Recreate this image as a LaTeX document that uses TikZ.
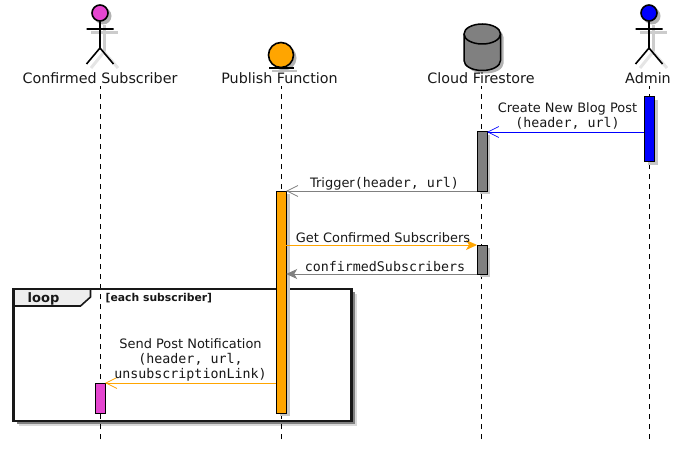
\documentclass[tikz,border=0pt]{standalone}
\usepackage{fontspec}
\setmainfont{DejaVu Sans}
\setmonofont[Scale=1.027]{DejaVu Sans Mono}
\usetikzlibrary{positioning, arrows.meta, calc}
\definecolor{pinkc}{RGB}{229,70,208}
\definecolor{orangec}{RGB}{255,165,0}
\definecolor{grayc}{RGB}{128,128,128}
\definecolor{tabc}{RGB}{238,238,238}
\definecolor{inkc}{RGB}{24,24,24}

\tikzset{
  lifeline/.style={dash pattern=on 5pt off 5pt, line width=0.9pt, black},
  bar/.style={draw=black, line width=1pt, minimum width=10pt, inner sep=0pt, outer sep=0pt, anchor=north},
  barshade/.style={fill=black!22, inner sep=0pt, outer sep=0pt, minimum width=10pt, anchor=north},
  who/.style={font=\fontsize{14.3}{16}\selectfont, text=inkc, inner sep=0pt},
  msg/.style={font=\fontsize{12.95}{15}\selectfont, text=inkc, inner sep=0pt, align=center},
  open head/.style={-{Straight Barb[length=11pt, width=11pt, line width=0.7pt]}, line width=0.9pt},
  full head/.style={-{Stealth[length=11pt, width=10pt, inset=3pt]}, line width=0.9pt},
  stickman/.pic={
    \draw[black!20, line width=3pt] (-9,33) -- (18,33) (4,25) -- (4,52);
    \draw[black!10, line width=3pt] (4,52) -- (-9,68) (4,52) -- (18,68);
    \fill[black!30] (3,16) circle (8.5);
    \draw[black, line width=1.6pt] (0,21) -- (0,48) (-13.5,29) -- (13.5,29)
      (-13.5,64) -- (0,48) -- (13.5,64);
    \draw[black, line width=1.6pt, fill=#1] (0,13) circle (8);
  }
}

\begin{document}
\begin{tikzpicture}[x=1pt, y=-1pt]
  \useasboundingbox (0,0) rectangle (679,449);

  % heads
  \pic at (100,0) {stickman=pinkc};
  \pic at (649,0) {stickman=blue};
  \fill[black!30] (284,58) circle (12.5);
  \draw[black!25, line width=1.5pt] (272,71) -- (297,71);
  \draw[line width=1.6pt, fill=orangec] (281,55) circle (12.5);
  \draw[line width=1.6pt] (269,68) -- (294,68);
  \fill[black!30] (467,37) .. controls (467,31.5) and (475,27) .. (485.25,27)
    .. controls (495.5,27) and (503.5,31.5) .. (503.5,37) -- (503.5,63.5)
    .. controls (503.5,69) and (495.5,73.5) .. (485.25,73.5)
    .. controls (475,73.5) and (467,69) .. (467,63.5) -- cycle;
  \draw[line width=1.5pt, fill=grayc] (464,34) .. controls (464,28.5) and (472,24) .. (482.25,24)
    .. controls (492.5,24) and (500.5,28.5) .. (500.5,34) -- (500.5,60.5)
    .. controls (500.5,66) and (492.5,70.5) .. (482.25,70.5)
    .. controls (472,70.5) and (464,66) .. (464,60.5) -- cycle;
  \draw[line width=1.5pt] (464,34) .. controls (464,39.5) and (472,44) .. (482.25,44)
    .. controls (492.5,44) and (500.5,39.5) .. (500.5,34);

  % names
  \node[who] (subName) at (100,78) {Confirmed Subscriber};
  \node[who] (fnName) at (279.5,78) {Publish Function};
  \node[who] (storeName) at (481,78) {Cloud Firestore};
  \node[who] (adminName) at (648,78) {Admin};

  \coordinate (subEnd) at (100,439);
  \coordinate (fnEnd) at (281,439);
  \coordinate (storeEnd) at (481.5,439);
  \coordinate (adminEnd) at (649,439);
  \draw[lifeline] (subEnd) -- (subEnd |- 0,86);
  \draw[lifeline] (fnEnd) -- (fnEnd |- 0,86);
  \draw[lifeline] (storeEnd) -- (storeEnd |- 0,86);
  \draw[lifeline] (adminEnd) -- (adminEnd |- 0,86);

  % frame
  \fill[black!15] (18.5,294) rectangle (356.5,426);
  \fill[black!50] (16.5,292) rectangle (354.5,424);
  \fill[white] (13.5,289) rectangle (351.5,421);
  \draw[lifeline] (subEnd) -- (subEnd |- 0,289);
  \draw[lifeline] (fnEnd) -- (fnEnd |- 0,289);
  \draw[inkc, line width=1.6pt, fill=tabc] (13.5,289) -- (90.5,289) -- (90.5,297)
    -- (80.5,306) -- (13.5,306) -- cycle;
  \draw[inkc, line width=2.4pt] (13.5,289) rectangle (351.5,421);
  \node[font=\fontsize{13}{15}\bfseries\selectfont, text=inkc, inner sep=0pt] (loopName) at (43.5,298.5) {loop};
  \node[font=\fontsize{10.8}{13}\bfseries\selectfont, text=inkc, inner sep=0pt, anchor=west] (loopGuard) at (105.5,298) {[each subscriber]};

  % activations
  \node[barshade, minimum height=65pt] at (652.5,100) {};
  \node[barshade, minimum height=59pt] at (485,135) {};
  \node[barshade, minimum height=29pt] at (485,248) {};
  \node[barshade, minimum height=222pt] at (284.5,194) {};
  \node[bar, fill=blue, minimum height=65pt] (adminBar) at (649.2,97) {};
  \node[bar, fill=grayc, minimum height=59pt] (storeBar) at (482,132) {};
  \node[bar, fill=grayc, minimum height=29pt] (listBar) at (482,245) {};
  \node[bar, fill=orangec, minimum height=222pt] (fnBar) at (281.2,191) {};
  \node[bar, fill=pinkc, minimum height=30pt] (subBar) at (100.2,383) {};

  % messages
  \draw[open head, blue] (adminBar.west |- storeBar.north east) -- (storeBar.north east);
  \draw[open head, grayc] (storeBar.south west) -- (fnBar.north east);
  \draw[full head, orangec] (fnBar.east |- listBar.north west) -- (listBar.north west);
  \draw[full head, grayc] (listBar.south west) -- (fnBar.east |- listBar.south west);
  \draw[open head, orangec] (fnBar.west |- subBar.north east) -- (subBar.north east);

  \node[msg] (newPostText) at (567.5,116) {Create New Blog Post\\\ttfamily(header, url)};
  \node[msg] (triggerText) at (384.5,184) {Trigger\ttfamily(header, url)};
  \node[msg] (getText) at (383,237.5) {Get Confirmed Subscribers};
  \node[msg] (listText) at (385,266.5) {\ttfamily confirmedSubscribers};
  \node[msg] (sendText) at (190.5,359.5) {Send Post Notification\\\ttfamily(header, url,\\\ttfamily unsubscriptionLink)};
\end{tikzpicture}
\end{document}
